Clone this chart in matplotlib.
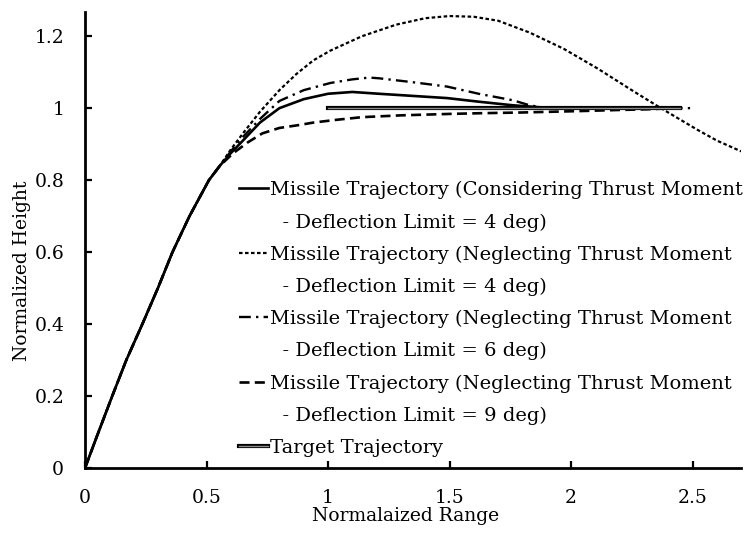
import matplotlib

matplotlib.use("Agg")
import matplotlib.pyplot as plt
import matplotlib.patheffects as pe
from matplotlib.lines import Line2D

plt.rcParams["font.family"] = ["DejaVu Serif"]

# shared launch segment (all missile curves coincide here)
rise_x = [0, 0.05, 0.112, 0.17, 0.236, 0.30, 0.36, 0.43, 0.51, 0.555]
rise_y = [0, 0.09, 0.2, 0.3, 0.4, 0.5, 0.6, 0.7, 0.8, 0.84]

# considering thrust moment, deflection limit 4 deg (solid)
cons4_x = [0.6, 0.65, 0.72, 0.8, 0.9, 1.0, 1.1, 1.21, 1.35, 1.49, 1.62, 1.76, 1.88, 1.96, 2.2, 2.45]
cons4_y = [0.875, 0.91, 0.96, 1.0, 1.025, 1.04, 1.045, 1.04, 1.034, 1.028, 1.018, 1.008, 1.002, 1.0, 1.0, 1.0]

# neglecting thrust moment, 4 deg (dotted)
neg4_x = [0.6, 0.65, 0.72, 0.8, 0.87, 0.94, 1.01, 1.14, 1.28, 1.4, 1.5, 1.6, 1.7, 1.83, 1.97, 2.11, 2.25,
          2.37, 2.52, 2.6, 2.70]
neg4_y = [0.885, 0.93, 0.99, 1.05, 1.095, 1.133, 1.16, 1.2, 1.232, 1.25, 1.256, 1.254, 1.243, 1.21, 1.165,
          1.11, 1.05, 1.0, 0.94, 0.91, 0.88]

# neglecting thrust moment, 6 deg (dash-dot)
neg6_x = [0.6, 0.65, 0.72, 0.8, 0.9, 1.01, 1.1, 1.17, 1.21, 1.35, 1.49, 1.62, 1.76, 1.83, 1.9, 2.2, 2.49]
neg6_y = [0.88, 0.92, 0.97, 1.02, 1.05, 1.07, 1.08, 1.085, 1.083, 1.072, 1.06, 1.04, 1.022, 1.008, 1.0,
          1.0, 1.0]

# neglecting thrust moment, 9 deg (dashed)
neg9_x = [0.61, 0.67, 0.73, 0.8, 0.88, 0.94, 1.04, 1.14, 1.3, 1.5, 1.63, 1.8, 2.04, 2.2, 2.32, 2.42]
neg9_y = [0.875, 0.905, 0.93, 0.945, 0.953, 0.96, 0.968, 0.975, 0.98, 0.984, 0.986, 0.988, 0.992,
          0.995, 0.997, 1.0]

target_x = [1.0, 2.45]
target_y = [1.0, 1.0]

labels = [
    ("Missile Trajectory (Considering Thrust Moment", "  - Deflection Limit = 4 deg)"),
    ("Missile Trajectory (Neglecting Thrust Moment", "  - Deflection Limit = 4 deg)"),
    ("Missile Trajectory (Neglecting Thrust Moment", "  - Deflection Limit = 6 deg)"),
    ("Missile Trajectory (Neglecting Thrust Moment", "  - Deflection Limit = 9 deg)"),
]

fig = plt.figure(figsize=(7.55, 5.37), dpi=100)
ax = fig.add_axes([0.1126, 0.1285, 0.869, 0.849])

styles = [
    dict(color="black", lw=1.9, ls="-"),
    dict(color="black", lw=1.6, dashes=(1.6, 1.1)),
    dict(color="black", lw=1.7, dashes=(5.0, 2.2, 1.0, 2.2)),
    dict(color="black", lw=1.9, dashes=(3.8, 2.0)),
]
series = [(cons4_x, cons4_y), (neg4_x, neg4_y), (neg6_x, neg6_y), (neg9_x, neg9_y)]
lines = []
for (sx, sy), st in zip(series, styles):
    (ln,) = ax.plot(rise_x + sx, rise_y + sy, **st)
    lines.append(ln)

(tln,) = ax.plot(target_x, target_y, color="#8c8c8c", lw=1.0,
                 path_effects=[pe.Stroke(linewidth=3.0, foreground="black"), pe.Normal()])

ax.set_xlim(0, 2.70)
ax.set_ylim(0, 1.267)
ax.set_xticks([0, 0.5, 1, 1.5, 2, 2.5])
ax.set_xticklabels(["0", "0.5", "1", "1.5", "2", "2.5"])
ax.set_yticks([0, 0.2, 0.4, 0.6, 0.8, 1.0, 1.2])
ax.set_yticklabels(["0", "0.2", "0.4", "0.6", "0.8", "1", "1.2"])
ax.tick_params(direction="in", length=5, width=1.6, labelsize=13.5, pad=15)
for s in ["top", "right"]:
    ax.spines[s].set_visible(False)
for s in ["left", "bottom"]:
    ax.spines[s].set_linewidth(2.0)

ax.set_xlabel("Normalaized Range", fontsize=13.5)
ax.set_ylabel("Normalized Height", fontsize=13.5)
ax.xaxis.set_label_coords(0.488, -0.085)
ax.yaxis.set_label_coords(-0.082, 0.432)

blank = Line2D([], [], color="none")
handles, texts = [], []
for ln, (l1, l2) in zip(lines, labels):
    handles += [ln, blank]
    texts += [l1, l2]
handles.append(tln)
texts.append("Target Trajectory")
ax.legend(handles, texts, loc="upper left", bbox_to_anchor=(239 / 755, 1 - 181 / 537),
          bbox_transform=fig.transFigure, frameon=False, fontsize=14, handlelength=1.5,
          handletextpad=0.1, labelspacing=0.72, borderaxespad=0, borderpad=0)

fig.savefig("out.png", dpi=100)
